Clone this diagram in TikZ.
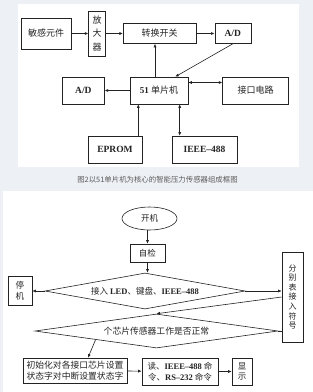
\documentclass[tikz,border=0pt]{standalone}
\usepackage{fontspec}
\setmainfont{Liberation Serif}
\newfontfamily\cjk{Noto Sans CJK SC}
\usepackage{xcolor}
\usepackage{tikz}
\usetikzlibrary{arrows.meta,positioning,shapes.geometric}
\definecolor{pageGray}{RGB}{237,240,244}
\definecolor{inkGray}{RGB}{35,35,35}
\definecolor{captionGray}{RGB}{90,90,90}
\newcommand{\lat}[1]{{\rmfamily\bfseries #1}}
\tikzset{
    blockBox/.style={
        draw=inkGray,
        line width=0.6pt,
        inner sep=0pt,
        align=center,
        text=inkGray,
        font=\cjk\fontsize{9}{11}\selectfont
    },
    latinBox/.style={
        blockBox,
        font=\rmfamily\bfseries\fontsize{9.5}{11}\selectfont
    },
    flowDiamond/.style={
        diamond,
        draw=inkGray,
        line width=0.6pt,
        inner sep=0pt,
        text=inkGray,
        font=\cjk\fontsize{8.5}{10}\selectfont
    },
    flowArrow/.style={
        -{Latex[length=3.5pt,width=3pt]},
        line width=0.6pt,
        draw=inkGray
    },
    flowBoth/.style={
        {Latex[length=3.5pt,width=3pt]}-{Latex[length=3.5pt,width=3pt]},
        line width=0.6pt,
        draw=inkGray
    },
    flowLine/.style={
        line width=0.6pt,
        draw=inkGray
    }
}
\begin{document}
\begin{tikzpicture}[x=1pt,y=-1pt]
        \fill[pageGray] (0,0) rectangle (313,392);
        \useasboundingbox (0,0) rectangle (313,392);
        \fill[white] (18,4) rectangle (299,167);
        \fill[white] (3,191) rectangle (313,392);

        \node[blockBox,minimum width=50pt,minimum height=31pt] (sens) at (46,33.5) {敏感元件};
        \node[blockBox,minimum width=17pt,minimum height=45pt,font=\cjk\fontsize{9}{13.5}\selectfont,right=17pt of sens] (amp) {放\\大\\器};
        \node[blockBox,minimum width=73pt,minimum height=20pt,right=17pt of amp] (switch) {转换开关};
        \node[latinBox,minimum width=36pt,minimum height=20pt,right=18pt of switch] (adtop) {A/D};

        \node[blockBox,minimum width=58pt,minimum height=27pt] (mcu) at (159,90.5) {\lat{51} 单片机};
        \node[latinBox,minimum width=42pt,minimum height=27pt,left=25pt of mcu] (adleft) {A/D};
        \node[blockBox,minimum width=66pt,minimum height=27pt,right=34pt of mcu] (iface) {接口电路};
        \node[latinBox,minimum width=54pt,minimum height=27pt] (eprom) at (115,149.5) {EPROM};
        \node[latinBox,minimum width=65pt,minimum height=27pt] (ieee) at (204.5,149.5) {IEEE--488};

        \draw[flowArrow] (sens) -- (amp);
        \draw[flowArrow] (amp.east |- switch) -- (switch.west);
        \draw[flowArrow] (switch) -- (adtop);
        \draw[flowArrow] (adtop.south) -- ([xshift=-13pt]mcu.north east);
        \draw[flowArrow] ([xshift=-4pt]mcu.north) -- ([xshift=-4pt]mcu.north |- switch.south);
        \draw[flowArrow] (mcu) -- (adleft);
        \draw[flowBoth] ([yshift=8pt]mcu.east) -- ([yshift=8pt]mcu.east -| iface.west);
        \draw[flowArrow] ([xshift=-4pt]eprom.north east) -- ([xshift=-4pt]eprom.north east |- mcu.south);
        \draw[flowBoth] ([xshift=8pt]ieee.north west) -- ([xshift=8pt]ieee.north west |- mcu.south);

        \node[font=\cjk\fontsize{7.4}{9}\selectfont,text=captionGray] (caption) at (157.5,180) {图2以51单片机为核心的智能压力传感器组成框图};

        \node[ellipse,draw=inkGray,line width=0.6pt,inner sep=0pt,minimum width=55pt,minimum height=23pt,text=inkGray,font=\cjk\fontsize{8.5}{10}\selectfont] (start) at (149.5,218.5) {开机};
        \node[blockBox,minimum width=35pt,minimum height=18pt,font=\cjk\fontsize{8.5}{10}\selectfont] (check) at (147.5,253) {自检};
        \node[flowDiamond,aspect=5.6,minimum width=200pt,minimum height=36pt] (dconn) at (145,291) {接入 \lat{LED}、键盘、\lat{IEEE--488}};
        \node[blockBox,minimum width=24pt,minimum height=29pt,font=\cjk\fontsize{8.5}{11}\selectfont] (stop) at (20,290.5) {停\\机};
        \node[blockBox,minimum width=21pt,minimum height=90pt,font=\cjk\fontsize{8}{9.6}\selectfont] (mark) at (292.5,297) {分\\别\\表\\接\\入\\符\\号};
        \node[flowDiamond,aspect=7.1,minimum width=243pt,minimum height=34pt,font=\cjk\fontsize{8.8}{10}\selectfont] (dwork) at (156.5,331) {个芯片传感器工作是否正常};
        \node[blockBox,minimum width=104pt,minimum height=25pt,font=\cjk\fontsize{8.8}{11.5}\selectfont] (init) at (75,370.5) {初始化对各接口芯片设置\\状态字对中断设置状态字};
        \node[blockBox,minimum width=76pt,minimum height=27pt,font=\cjk\fontsize{8.5}{11.5}\selectfont] (read) at (180,371.5) {读、\lat{IEEE--488} 命\\令、\lat{RS--232} 命令};
        \node[blockBox,minimum width=20pt,minimum height=27pt,font=\cjk\fontsize{8.5}{10.5}\selectfont] (disp) at (242,371.5) {显\\示};

        \draw[flowArrow] (start.south -| check) -- (check);
        \draw[flowArrow] (check.south) -- (check.south |- dconn.north);
        \draw[flowArrow] (dconn.west) -- (dconn.west -| stop.east);
        \draw[flowArrow] (dconn.east) -- (dconn.east -| mark.west);
        \draw[flowArrow] (mark.west) -- (dwork.north);
        \draw[flowLine] (dwork.east) -- (dwork.east -| mark.west);
        \draw[flowArrow] (dwork.south west) -- ([xshift=13pt]init.north);
        \draw[flowArrow] (init) -- (read);
        \draw[flowArrow] (read) -- (disp);
    \end{tikzpicture}
\end{document}
